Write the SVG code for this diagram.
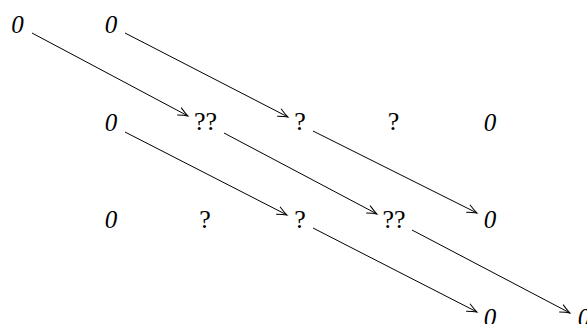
<svg xmlns="http://www.w3.org/2000/svg" width="587" height="324" viewBox="0 0 587 324">
<defs>
<marker id="ah" markerUnits="userSpaceOnUse" markerWidth="14" markerHeight="12" refX="0" refY="0" viewBox="-11 -6 14 12" orient="auto" overflow="visible">
<path d="M -10,-4.2 Q -4,-1.2 0,0 Q -4,1.2 -10,4.2" fill="none" stroke="#000" stroke-width="1"/>
</marker>
<style>
text{font-family:"Liberation Serif","Times New Roman",serif;font-size:26px;fill:#000;text-anchor:middle}
.z{font-family:"Liberation Serif",serif;font-style:italic;font-size:25px}
.c line{stroke:#000;stroke-width:1;marker-end:url(#ah)}
</style>
</defs>
<rect width="587" height="324" fill="#fff"/>
<g id="n00"><text class="z" x="17.5" y="33">0</text></g>
<g id="n01"><text class="z" x="111" y="33">0</text></g>
<g id="n11"><text class="z" x="111" y="131">0</text></g>
<g id="n12"><text x="205.5" y="130">??</text></g>
<g id="n13"><text x="300" y="130">?</text></g>
<g id="n14"><text x="393.5" y="130">?</text></g>
<g id="n15"><text class="z" x="490" y="131">0</text></g>
<g id="n21"><text class="z" x="111" y="228">0</text></g>
<g id="n22"><text x="205" y="228">?</text></g>
<g id="n23"><text x="300" y="228">?</text></g>
<g id="n24"><text x="394" y="228">??</text></g>
<g id="n25"><text class="z" x="490" y="228">0</text></g>
<g id="n35"><text class="z" x="490" y="326">0</text></g>
<g id="n36"><text class="z" x="584" y="326">0</text></g>
<g id="connectors" class="c">
<line x1="32" y1="33" x2="188" y2="116"/>
<line x1="125" y1="33" x2="288" y2="117"/>
<line x1="125" y1="132" x2="287" y2="215"/>
<line x1="224" y1="133" x2="377" y2="214"/>
<line x1="313" y1="131" x2="477" y2="213"/>
<line x1="313" y1="228" x2="477" y2="312"/>
<line x1="412" y1="230" x2="570" y2="313"/>
</g>
</svg>
